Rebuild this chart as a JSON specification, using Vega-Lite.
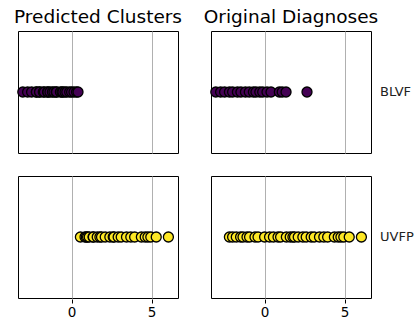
{
  "$schema": "https://vega.github.io/schema/vega-lite/v6.json",
  "padding": {"left": 13, "top": 7, "right": 0, "bottom": 0},
  "background": "white",
  "config": {
    "font": "DejaVu Sans",
    "view": {"stroke": "black", "strokeWidth": 1},
    "facet": {"spacing": {"column": 28, "row": 21}},
    "axis": {"labelFont": "DejaVu Sans"}
  },
  "data": {
    "values": [
      {"panel": "Predicted Clusters", "group": "BLVF", "x": -3.05},
      {"panel": "Predicted Clusters", "group": "BLVF", "x": -2.75},
      {"panel": "Predicted Clusters", "group": "BLVF", "x": -2.5},
      {"panel": "Predicted Clusters", "group": "BLVF", "x": -2.2},
      {"panel": "Predicted Clusters", "group": "BLVF", "x": -2.2},
      {"panel": "Predicted Clusters", "group": "BLVF", "x": -2.0},
      {"panel": "Predicted Clusters", "group": "BLVF", "x": -2.0},
      {"panel": "Predicted Clusters", "group": "BLVF", "x": -1.77},
      {"panel": "Predicted Clusters", "group": "BLVF", "x": -1.7},
      {"panel": "Predicted Clusters", "group": "BLVF", "x": -1.5},
      {"panel": "Predicted Clusters", "group": "BLVF", "x": -1.48},
      {"panel": "Predicted Clusters", "group": "BLVF", "x": -1.35},
      {"panel": "Predicted Clusters", "group": "BLVF", "x": -1.2},
      {"panel": "Predicted Clusters", "group": "BLVF", "x": -1.1},
      {"panel": "Predicted Clusters", "group": "BLVF", "x": -0.96},
      {"panel": "Predicted Clusters", "group": "BLVF", "x": -0.94},
      {"panel": "Predicted Clusters", "group": "BLVF", "x": -0.7},
      {"panel": "Predicted Clusters", "group": "BLVF", "x": -0.6},
      {"panel": "Predicted Clusters", "group": "BLVF", "x": -0.54},
      {"panel": "Predicted Clusters", "group": "BLVF", "x": -0.41},
      {"panel": "Predicted Clusters", "group": "BLVF", "x": -0.3},
      {"panel": "Predicted Clusters", "group": "BLVF", "x": -0.12},
      {"panel": "Predicted Clusters", "group": "BLVF", "x": 0.0},
      {"panel": "Predicted Clusters", "group": "BLVF", "x": 0.15},
      {"panel": "Predicted Clusters", "group": "BLVF", "x": 0.31},
      {"panel": "Predicted Clusters", "group": "BLVF", "x": 0.4},
      {"panel": "Predicted Clusters", "group": "UVFP", "x": 0.55},
      {"panel": "Predicted Clusters", "group": "UVFP", "x": 0.84},
      {"panel": "Predicted Clusters", "group": "UVFP", "x": 0.92},
      {"panel": "Predicted Clusters", "group": "UVFP", "x": 1.0},
      {"panel": "Predicted Clusters", "group": "UVFP", "x": 1.1},
      {"panel": "Predicted Clusters", "group": "UVFP", "x": 1.34},
      {"panel": "Predicted Clusters", "group": "UVFP", "x": 1.36},
      {"panel": "Predicted Clusters", "group": "UVFP", "x": 1.6},
      {"panel": "Predicted Clusters", "group": "UVFP", "x": 1.77},
      {"panel": "Predicted Clusters", "group": "UVFP", "x": 1.87},
      {"panel": "Predicted Clusters", "group": "UVFP", "x": 2.1},
      {"panel": "Predicted Clusters", "group": "UVFP", "x": 2.39},
      {"panel": "Predicted Clusters", "group": "UVFP", "x": 2.6},
      {"panel": "Predicted Clusters", "group": "UVFP", "x": 2.65},
      {"panel": "Predicted Clusters", "group": "UVFP", "x": 2.91},
      {"panel": "Predicted Clusters", "group": "UVFP", "x": 3.1},
      {"panel": "Predicted Clusters", "group": "UVFP", "x": 3.43},
      {"panel": "Predicted Clusters", "group": "UVFP", "x": 3.7},
      {"panel": "Predicted Clusters", "group": "UVFP", "x": 3.94},
      {"panel": "Predicted Clusters", "group": "UVFP", "x": 4.36},
      {"panel": "Predicted Clusters", "group": "UVFP", "x": 4.6},
      {"panel": "Predicted Clusters", "group": "UVFP", "x": 4.77},
      {"panel": "Predicted Clusters", "group": "UVFP", "x": 4.95},
      {"panel": "Predicted Clusters", "group": "UVFP", "x": 5.29},
      {"panel": "Predicted Clusters", "group": "UVFP", "x": 6.05},
      {"panel": "Original Diagnoses", "group": "BLVF", "x": -3.05},
      {"panel": "Original Diagnoses", "group": "BLVF", "x": -2.75},
      {"panel": "Original Diagnoses", "group": "BLVF", "x": -2.5},
      {"panel": "Original Diagnoses", "group": "BLVF", "x": -2.2},
      {"panel": "Original Diagnoses", "group": "BLVF", "x": -2.0},
      {"panel": "Original Diagnoses", "group": "BLVF", "x": -1.7},
      {"panel": "Original Diagnoses", "group": "BLVF", "x": -1.48},
      {"panel": "Original Diagnoses", "group": "BLVF", "x": -1.2},
      {"panel": "Original Diagnoses", "group": "BLVF", "x": -0.96},
      {"panel": "Original Diagnoses", "group": "BLVF", "x": -0.7},
      {"panel": "Original Diagnoses", "group": "BLVF", "x": -0.54},
      {"panel": "Original Diagnoses", "group": "BLVF", "x": -0.3},
      {"panel": "Original Diagnoses", "group": "BLVF", "x": -0.12},
      {"panel": "Original Diagnoses", "group": "BLVF", "x": 0.15},
      {"panel": "Original Diagnoses", "group": "BLVF", "x": 0.4},
      {"panel": "Original Diagnoses", "group": "BLVF", "x": 0.92},
      {"panel": "Original Diagnoses", "group": "BLVF", "x": 1.1},
      {"panel": "Original Diagnoses", "group": "BLVF", "x": 1.34},
      {"panel": "Original Diagnoses", "group": "BLVF", "x": 2.65},
      {"panel": "Original Diagnoses", "group": "UVFP", "x": -2.2},
      {"panel": "Original Diagnoses", "group": "UVFP", "x": -2.0},
      {"panel": "Original Diagnoses", "group": "UVFP", "x": -1.77},
      {"panel": "Original Diagnoses", "group": "UVFP", "x": -1.5},
      {"panel": "Original Diagnoses", "group": "UVFP", "x": -1.35},
      {"panel": "Original Diagnoses", "group": "UVFP", "x": -1.1},
      {"panel": "Original Diagnoses", "group": "UVFP", "x": -0.94},
      {"panel": "Original Diagnoses", "group": "UVFP", "x": -0.6},
      {"panel": "Original Diagnoses", "group": "UVFP", "x": -0.41},
      {"panel": "Original Diagnoses", "group": "UVFP", "x": 0.0},
      {"panel": "Original Diagnoses", "group": "UVFP", "x": 0.31},
      {"panel": "Original Diagnoses", "group": "UVFP", "x": 0.55},
      {"panel": "Original Diagnoses", "group": "UVFP", "x": 0.84},
      {"panel": "Original Diagnoses", "group": "UVFP", "x": 1.0},
      {"panel": "Original Diagnoses", "group": "UVFP", "x": 1.36},
      {"panel": "Original Diagnoses", "group": "UVFP", "x": 1.6},
      {"panel": "Original Diagnoses", "group": "UVFP", "x": 1.77},
      {"panel": "Original Diagnoses", "group": "UVFP", "x": 1.87},
      {"panel": "Original Diagnoses", "group": "UVFP", "x": 2.1},
      {"panel": "Original Diagnoses", "group": "UVFP", "x": 2.39},
      {"panel": "Original Diagnoses", "group": "UVFP", "x": 2.6},
      {"panel": "Original Diagnoses", "group": "UVFP", "x": 2.91},
      {"panel": "Original Diagnoses", "group": "UVFP", "x": 3.1},
      {"panel": "Original Diagnoses", "group": "UVFP", "x": 3.43},
      {"panel": "Original Diagnoses", "group": "UVFP", "x": 3.7},
      {"panel": "Original Diagnoses", "group": "UVFP", "x": 3.94},
      {"panel": "Original Diagnoses", "group": "UVFP", "x": 4.36},
      {"panel": "Original Diagnoses", "group": "UVFP", "x": 4.6},
      {"panel": "Original Diagnoses", "group": "UVFP", "x": 4.77},
      {"panel": "Original Diagnoses", "group": "UVFP", "x": 4.95},
      {"panel": "Original Diagnoses", "group": "UVFP", "x": 5.29},
      {"panel": "Original Diagnoses", "group": "UVFP", "x": 6.05}
    ]
  },
  "facet": {
    "column": {
      "field": "panel", "type": "nominal", "title": null,
      "sort": ["Predicted Clusters", "Original Diagnoses"],
      "header": {"labelFontSize": 18.5, "labelColor": "black", "labelFont": "DejaVu Sans", "labelPadding": 4}
    },
    "row": {
      "field": "group", "type": "nominal", "title": null,
      "sort": ["BLVF", "UVFP"],
      "header": {"orient": "right", "labelAngle": 0, "labelFontSize": 13, "labelColor": "#222222", "labelFont": "DejaVu Sans", "labelPadding": 8}
    }
  },
  "spec": {
    "width": 160,
    "height": 122,
    "mark": {"type": "point", "filled": true, "size": 100, "stroke": "black", "strokeWidth": 1.3, "opacity": 1},
    "encoding": {
      "x": {
        "field": "x", "type": "quantitative", "title": null,
        "scale": {"domain": [-3.35, 6.65], "nice": false, "zero": false},
        "axis": {"values": [0, 5], "domain": false, "grid": true, "gridColor": "#b0b0b0", "gridWidth": 1, "tickColor": "black", "tickSize": 4, "labelFontSize": 13.5, "labelColor": "black", "labelPadding": 2, "format": "d"}
      },
      "color": {
        "field": "group", "type": "nominal", "legend": null,
        "scale": {"domain": ["BLVF", "UVFP"], "range": ["#440154", "#fde725"]}
      }
    }
  }
}
